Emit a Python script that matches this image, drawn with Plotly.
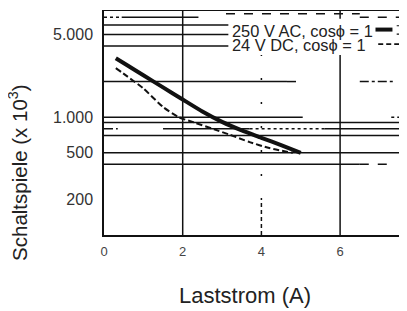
import plotly.graph_objects as go
import math

# ---- data ----
current_ac = [0.3, 0.6, 1.0, 1.5, 2.0, 2.5, 3.0, 3.5, 4.0, 4.5, 5.0]
cycles_ac = [3150, 2730, 2260, 1785, 1410, 1117, 912, 773, 670, 580, 500]

current_dc = [0.3, 0.6, 1.0, 1.5, 1.9, 2.3, 2.8, 3.2, 3.7, 4.2, 4.8]
cycles_dc = [2600, 2200, 1750, 1220, 1000, 900, 790, 710, 616, 548, 500]

series_names = ["250 V AC, cos\u03d5 = 1", "24 V DC, cos\u03d5 = 1"]

y_tickvals = [200, 500, 1000, 5000]
y_ticktext = ["200", "500", "1.000", "5.000"]
x_tickvals = [0, 2, 4, 6]

X_MAX = 7.7
Y_MIN, Y_MAX = 101, 8050

# horizontal grid segments: (value, x0, x1, dash)
h_grid = [
    (8000, 0, X_MAX, "solid"),
    (7000, 0, 0.45, "dot"),
    (7000, 0.45, 2.4, "solid"),
    (7000, 6.5, X_MAX, "dash"),
    (7500, 3.1, 6.5, "dash"),
    (6000, 0, X_MAX, "solid"),
    (5000, 0, X_MAX, "solid"),
    (4000, 0, X_MAX, "solid"),
    (2000, 0, 4.65, "solid"),
    (2000, 4.65, 5.05, "dash"),
    (2000, 6.5, 7.4, "dashdot"),
    (1000, 0, 5.05, "solid"),
    (1000, 7.3, X_MAX, "dot"),
    (900, 0, X_MAX, "solid"),
    (800, 0, 0.35, "dashdot"),
    (800, 1.5, 3.7, "solid"),
    (800, 3.7, 5.6, "dot"),
    (800, 5.6, X_MAX, "solid"),
    (700, 0, X_MAX, "solid"),
    (500, 0, X_MAX, "solid"),
    (400, 0, 6.5, "solid"),
    (400, 6.5, 7.2, "dash"),
]
# vertical grid segments: (value, y0, y1, dash)
v_grid = [
    (2, Y_MIN, 8000, "solid"),
    (6, Y_MIN, 8000, "solid"),
    (4, 200, 8000, "2px,22px"),
    (4, Y_MIN, 200, "4px,3px"),
]

FONT = "Liberation Sans, Arial, sans-serif"
INK = "#111111"

fig = go.Figure()

shapes = []
for v, x0, x1, d in h_grid:
    shapes.append(dict(type="line", xref="x", yref="y", x0=x0, x1=x1, y0=v, y1=v,
                       layer="below", line=dict(color=INK, width=1.5, dash=d)))
for v, y0, y1, d in v_grid:
    shapes.append(dict(type="line", xref="x", yref="y", x0=v, x1=v, y0=y0, y1=y1,
                       layer="below", line=dict(color=INK, width=1.5, dash=d)))
# white legend box covering the grid (same layer as grid, drawn after it)
shapes.append(dict(type="rect", xref="x", yref="y", x0=3.16, x1=X_MAX, y0=3350, y1=6800,
                   layer="below", line=dict(width=0), fillcolor="white"))
# legend samples
shapes.append(dict(type="line", xref="paper", yref="paper", x0=0.896, x1=0.952, y0=0.913, y1=0.913,
                   line=dict(color=INK, width=4)))
shapes.append(dict(type="path", xref="paper", yref="paper",
                   path="M 0.966 0.93 L 0.995 0.93 L 0.995 0.893 L 0.966 0.893",
                   line=dict(color=INK, width=1.2)))
shapes.append(dict(type="line", xref="paper", yref="paper", x0=0.905, x1=1.0, y0=0.848, y1=0.848,
                   line=dict(color=INK, width=1.8, dash="5px,3px")))

fig.add_trace(go.Scatter(x=current_ac, y=cycles_ac, mode="lines", name=series_names[0],
                         line=dict(color=INK, width=4, shape="spline", smoothing=0.6),
                         showlegend=False))
fig.add_trace(go.Scatter(x=current_dc, y=cycles_dc, mode="lines", name=series_names[1],
                         line=dict(color=INK, width=2, dash="6px,3px", shape="spline", smoothing=0.6),
                         showlegend=False))

annotations = [
    dict(text=series_names[0], xref="paper", yref="paper", x=0.416, y=0.905,
         xanchor="left", yanchor="middle", showarrow=False,
         font=dict(family=FONT, size=16.4, color="#222")),
    dict(text=series_names[1], xref="paper", yref="paper", x=0.416, y=0.843,
         xanchor="left", yanchor="middle", showarrow=False,
         font=dict(family=FONT, size=16.4, color="#222")),
    dict(text="Laststrom (A)", xref="paper", yref="paper", x=0.465, y=-0.271,
         xanchor="center", yanchor="middle", showarrow=False,
         font=dict(family=FONT, size=22, color="#222")),
    dict(text="Schaltspiele (x 10<sup>3</sup>)", xref="paper", yref="paper", x=-0.284, y=0.28,
         xanchor="center", yanchor="middle", textangle=-90, showarrow=False,
         font=dict(family=FONT, size=20.5, color="#222")),
]

# page body has an 8px margin: figure is offset by (8, 8)
fig.update_layout(
    width=399, height=303,
    margin=dict(l=96, r=0, t=2, b=76, autoexpand=False),
    paper_bgcolor="white", plot_bgcolor="white",
    shapes=shapes, annotations=annotations,
    showlegend=False,
    font=dict(family=FONT, color="#333"),
)
fig.update_xaxes(range=[0, X_MAX], tickvals=x_tickvals, ticktext=[str(v) for v in x_tickvals],
                 showgrid=False, zeroline=False, showline=True, linecolor=INK, linewidth=1.5,
                 ticks="", ticklabelstandoff=4, tickfont=dict(size=13, color="#444"),
                 automargin=False)
fig.update_yaxes(type="log", range=[math.log10(Y_MIN), math.log10(Y_MAX)],
                 tickvals=y_tickvals, ticktext=y_ticktext,
                 showgrid=False, zeroline=False, showline=True, linecolor=INK, linewidth=1.5,
                 ticks="", ticklabelstandoff=6, tickfont=dict(size=16, color="#333"),
                 automargin=False)

fig.write_html("out.html")
